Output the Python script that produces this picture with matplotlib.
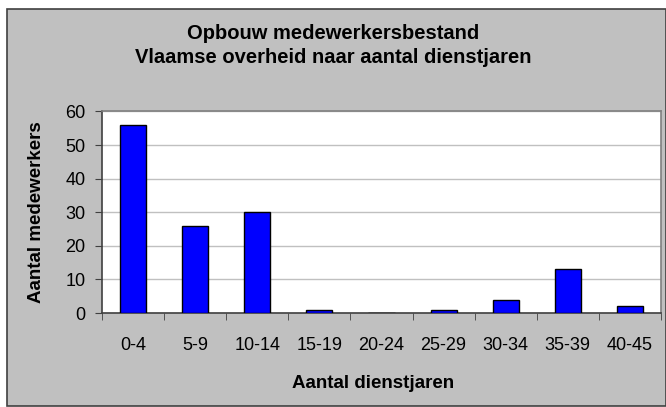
import numpy as np
import matplotlib
matplotlib.use("Agg")
import matplotlib.pyplot as plt
from matplotlib.patches import Rectangle

# data
categories = ["0-4", "5-9", "10-14", "15-19", "20-24", "25-29", "30-34", "35-39", "40-45"]
medewerkers = [56, 26, 30, 1, 0, 1, 4, 13, 2]

plt.rcParams['font.family'] = ['Liberation Sans', 'DejaVu Sans']

fig = plt.figure(figsize=(6.66, 4.07), dpi=100)
fig.patch.set_facecolor('white')

# grey chart area with dark border
W, H = 666, 407
fig.patches.append(Rectangle((7 / W, 1 - 406 / H), (666 - 7) / W, (406 - 9) / H,
                             transform=fig.transFigure, facecolor='#C0C0C0',
                             edgecolor='#404040', linewidth=1.2, zorder=-5))

ax = fig.add_axes([102 / W, 1 - 313 / H, (661 - 102) / W, (313 - 111.5) / H])
ax.set_zorder(2)
ax.set_facecolor('white')

x = np.arange(len(categories))
ax.bar(x, medewerkers, width=0.42, color='#0000FF', edgecolor='black', linewidth=1, zorder=3)

ax.set_xlim(-0.5, len(categories) - 0.5)
ax.set_ylim(0, 60)
ax.set_yticks(range(0, 61, 10))
ax.yaxis.grid(True, color='#C0C0C0', linewidth=1, zorder=0)
ax.set_axisbelow(True)

ax.set_xticks(x)
ax.set_xticklabels(categories)
ax.set_xticks(np.arange(-0.5, len(categories), 1), minor=True)
ax.tick_params(axis='x', which='major', length=0, pad=17, labelsize=13)
ax.tick_params(axis='x', which='minor', length=5, direction='out', color='#404040')
ax.tick_params(axis='y', length=5, direction='out', color='#404040', labelsize=13, pad=7)

for s in ['left', 'bottom']:
    ax.spines[s].set_color('#404040')
    ax.spines[s].set_linewidth(1.2)
for s in ['top', 'right']:
    ax.spines[s].set_color('#808080')
    ax.spines[s].set_linewidth(1.2)

ax.set_ylabel('Aantal medewerkers', fontsize=13.5, fontweight='bold')
ax.yaxis.set_label_coords(-(102 - 37) / 559, 0.5)
ax.set_xlabel('Aantal dienstjaren', fontsize=13.5, fontweight='bold')
ax.xaxis.set_label_coords((373 - 102) / 559, -(383 - 313) / 201.5)
ax.xaxis.label.set_va('center')
ax.yaxis.label.set_va('center')

fig.text(333 / W, 1 - 45.5 / H, 'Opbouw medewerkersbestand\nVlaamse overheid naar aantal dienstjaren',
         ha='center', va='center', fontsize=14.5, fontweight='bold', linespacing=1.3)

fig.savefig('out.png', dpi=100)
